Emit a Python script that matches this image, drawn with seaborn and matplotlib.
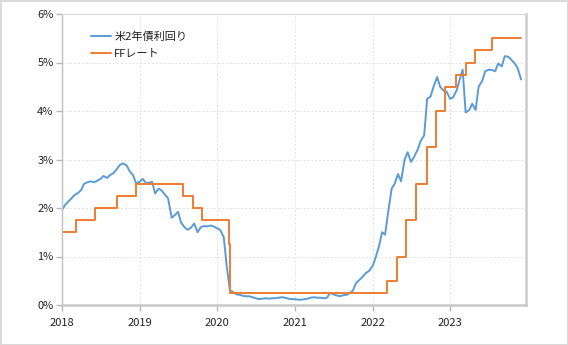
import matplotlib
matplotlib.use("Agg")
import matplotlib.pyplot as plt
import matplotlib.dates as mdates
import matplotlib.ticker as mticker
import numpy as np
import pandas as pd
import seaborn as sns

# ---------------- data ----------------
series_labels = ["米2年債利回り", "FFレート"]

# US 2-year yield, semi-monthly samples (1st and 15th), 2018-01-01 .. 2023-12-01
yield_start = "2018-01-01"
yield_end = "2023-12-01"
yield_values = [
    # 2018
    1.96, 2.06, 2.14, 2.20, 2.27, 2.30, 2.37, 2.50, 2.53, 2.55, 2.53, 2.56,
    2.60, 2.66, 2.62, 2.68, 2.72, 2.80, 2.89, 2.92, 2.88, 2.76, 2.68, 2.51,
    # 2019
    2.54, 2.60, 2.51, 2.52, 2.54, 2.30, 2.40, 2.36, 2.27, 2.20, 1.80, 1.85,
    1.92, 1.70, 1.60, 1.55, 1.60, 1.68, 1.50, 1.60, 1.63, 1.62, 1.64, 1.62,
    # 2020
    1.58, 1.55, 1.40, 0.80, 0.30, 0.27, 0.22, 0.21, 0.19, 0.18, 0.18, 0.16,
    0.14, 0.12, 0.13, 0.14, 0.13, 0.14, 0.14, 0.15, 0.16, 0.15, 0.13, 0.12,
    # 2021
    0.12, 0.11, 0.11, 0.12, 0.13, 0.15, 0.16, 0.15, 0.15, 0.14, 0.15, 0.25,
    0.22, 0.20, 0.18, 0.20, 0.21, 0.24, 0.30, 0.45, 0.52, 0.58, 0.66, 0.70,
    # 2022
    0.80, 0.97, 1.22, 1.50, 1.45, 1.90, 2.40, 2.50, 2.70, 2.55, 3.00, 3.15,
    2.95, 3.05, 3.20, 3.38, 3.50, 4.25, 4.30, 4.50, 4.70, 4.50, 4.42, 4.40,
    # 2023
    4.25, 4.28, 4.43, 4.65, 4.85, 3.97, 4.02, 4.15, 4.02, 4.50, 4.62, 4.82,
    4.85, 4.85, 4.82, 4.98, 4.92, 5.13, 5.12, 5.06, 4.98, 4.88, 4.65,
]

# Fed funds target (upper bound): change dates and levels
ff_dates = [
    "2018-01-01", "2018-03-10", "2018-06-05", "2018-09-17", "2018-12-14",
    "2019-07-24", "2019-09-09", "2019-10-22", "2020-02-28", "2020-03-02",
    "2022-03-10", "2022-04-28", "2022-06-06", "2022-07-23", "2022-09-13",
    "2022-10-25", "2022-12-08", "2023-01-27", "2023-03-15", "2023-04-28",
    "2023-07-18", "2023-12-01",
]
ff_values = [
    1.50, 1.75, 2.00, 2.25, 2.50,
    2.25, 2.00, 1.75, 1.25, 0.25,
    0.50, 1.00, 1.75, 2.50, 3.25,
    4.00, 4.50, 4.75, 5.00, 5.25,
    5.50, 5.50,
]

y_ticks = [0, 1, 2, 3, 4, 5, 6]

# ---------------- build frames ----------------
yield_dates = pd.date_range(yield_start, yield_end, freq="SMS")
df_y = pd.DataFrame({"date": yield_dates, "value": yield_values})
df_ff = pd.DataFrame({"date": pd.to_datetime(ff_dates), "value": ff_values})

# ---------------- plot ----------------
sns.set_theme(style="white")
plt.rcParams["font.family"] = ["Noto Sans CJK JP", "DejaVu Sans"]

W, H = 568, 345
fig = plt.figure(figsize=(W / 100, H / 100), dpi=100)
fig.patch.set_facecolor("white")
fig.patch.set_edgecolor("#dadada")
fig.patch.set_linewidth(1.0)

ax = fig.add_axes([62 / W, 40 / H, 464 / W, 291 / H])

sns.lineplot(data=df_y, x="date", y="value", ax=ax, color="#5B9BD5",
             linewidth=1.4, label=series_labels[0])
sns.lineplot(data=df_ff, x="date", y="value", ax=ax, color="#ED7D31",
             linewidth=1.4, drawstyle="steps-post", label=series_labels[1])

ax.set_xlim(pd.Timestamp("2018-01-01"), pd.Timestamp("2023-12-24"))
ax.set_ylim(0, 6)
ax.set_yticks(y_ticks)
ax.yaxis.set_major_formatter(mticker.FuncFormatter(lambda v, p: f"{v:.0f}%"))
ax.xaxis.set_major_locator(mdates.YearLocator())
ax.xaxis.set_major_formatter(mdates.DateFormatter("%Y"))
ax.set_xlabel("")
ax.set_ylabel("")

ax.grid(True, color="#e2e2e2", linestyle=(0, (2, 2)), linewidth=0.7)
ax.set_axisbelow(True)

for side, (c, lw) in {"left": ("#c0c0c0", 1.0), "bottom": ("#c8c8c8", 1.8),
                      "right": ("#cccccc", 1.8), "top": ("#d8d8d8", 0.8)}.items():
    ax.spines[side].set_visible(True)
    ax.spines[side].set_color(c)
    ax.spines[side].set_linewidth(lw)

ax.tick_params(axis="both", which="major", bottom=True, left=True,
               length=4, width=1.0, color="#b8b8b8", labelsize=8,
               labelcolor="#222222", pad=2, direction="out")
ax.tick_params(axis="x", pad=5)

leg = ax.legend(loc="upper left", bbox_to_anchor=(29 / 464, (305 - 31) / 291),
                frameon=False, borderpad=0, borderaxespad=0,
                handlelength=1.8, handletextpad=0.3, labelspacing=0.7,
                fontsize=8)
for t in leg.get_texts():
    t.set_color("#222222")

fig.savefig("out.png", dpi=100)
